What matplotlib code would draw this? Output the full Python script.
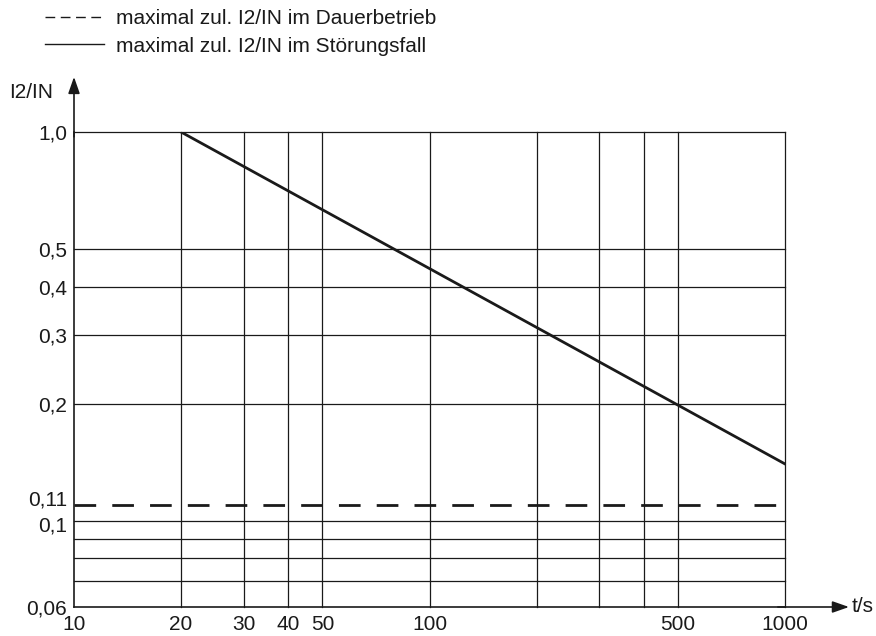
import matplotlib.pyplot as plt
import matplotlib.transforms as mtransforms
from matplotlib.lines import Line2D

plt.rcParams['font.family'] = ['Liberation Sans', 'DejaVu Sans']

# data
t_fault = [20, 1000]
i_fault = [1.0, 0.14]
i_cont = 0.11

x_grid = [20, 30, 40, 50, 100, 200, 300, 400, 500, 1000]
y_grid = [0.07, 0.08, 0.09, 0.1, 0.2, 0.3, 0.4, 0.5, 1.0]
x_ticks = [10, 20, 30, 40, 50, 100, 500, 1000]
y_ticks = [0.06, 0.1, 0.11, 0.2, 0.3, 0.4, 0.5, 1.0]
y_tick_labels = ['0,06', '0,1', '0,11', '0,2', '0,3', '0,4', '0,5', '1,0']

label_cont = 'maximal zul. I2/IN im Dauerbetrieb'
label_fault = 'maximal zul. I2/IN im Störungsfall'

ink = '#1a1a1a'
fs = 15

fig = plt.figure(figsize=(8.76, 6.36), dpi=100)
ax = fig.add_axes([74 / 876, 29 / 636, 711 / 876, 475 / 636])

ax.set_xscale('log')
ax.set_yscale('log')
ax.set_xlim(10, 1000)
ax.set_ylim(0.06, 1.0)

for x in x_grid:
    ax.axvline(x, color=ink, lw=0.9, zorder=1, clip_on=False)
for y in y_grid:
    ax.axhline(y, color=ink, lw=0.9, zorder=1, clip_on=False)

ax.plot(t_fault, i_fault, color=ink, lw=2.0, zorder=3)
ax.axhline(i_cont, color=ink, lw=2.0, dashes=(7.8, 5.8), zorder=3)

ax.set_xticks(x_ticks)
ax.set_xticklabels([str(v) for v in x_ticks])
ax.set_yticks(y_ticks)
ax.set_yticklabels(y_tick_labels)
ax.minorticks_off()
ax.tick_params(length=0, labelsize=fs, colors=ink)
ax.tick_params(axis='x', pad=6)
ax.tick_params(axis='y', pad=5)

# 0,1 and 0,11 sit close together, nudge the two labels apart a little
for lab, dy in zip(ax.get_yticklabels()[1:3], [-3, 7]):
    lab.set_transform(lab.get_transform() +
                      mtransforms.ScaledTranslation(0, dy / 100, fig.dpi_scale_trans))

for s in ['top', 'right']:
    ax.spines[s].set_visible(False)
for s in ['left', 'bottom']:
    ax.spines[s].set_color(ink)
    ax.spines[s].set_linewidth(1.2)

# axis arrows
arrow = dict(arrowstyle='-|>,head_length=1.0,head_width=0.35', color=ink, lw=1.2,
             shrinkA=0, shrinkB=0)
ax.annotate('', xy=(0, 1.116), xytext=(0, 0.99), xycoords='axes fraction',
            arrowprops=arrow, annotation_clip=False)
ax.annotate('', xy=(1.09, 0), xytext=(0.99, 0), xycoords='axes fraction',
            arrowprops=arrow, annotation_clip=False)

fig.text(9 / 876, 1 - 93 / 636, 'I2/IN', fontsize=fs, color=ink, va='center')
fig.text(852 / 876, 1 - 606 / 636, 't/s', fontsize=fs, color=ink, va='center')

handles = [Line2D([], [], color=ink, lw=1.0, dashes=(7, 4)),
           Line2D([], [], color=ink, lw=1.0)]
fig.legend(handles, [label_cont, label_fault], loc='upper left',
           bbox_to_anchor=(37 / 876, 1 - 1 / 636), frameon=False, fontsize=fs,
           handlelength=2.8, handletextpad=0.6, labelspacing=0.4,
           borderaxespad=0.0, labelcolor=ink)

fig.savefig('out.png', dpi=100)
